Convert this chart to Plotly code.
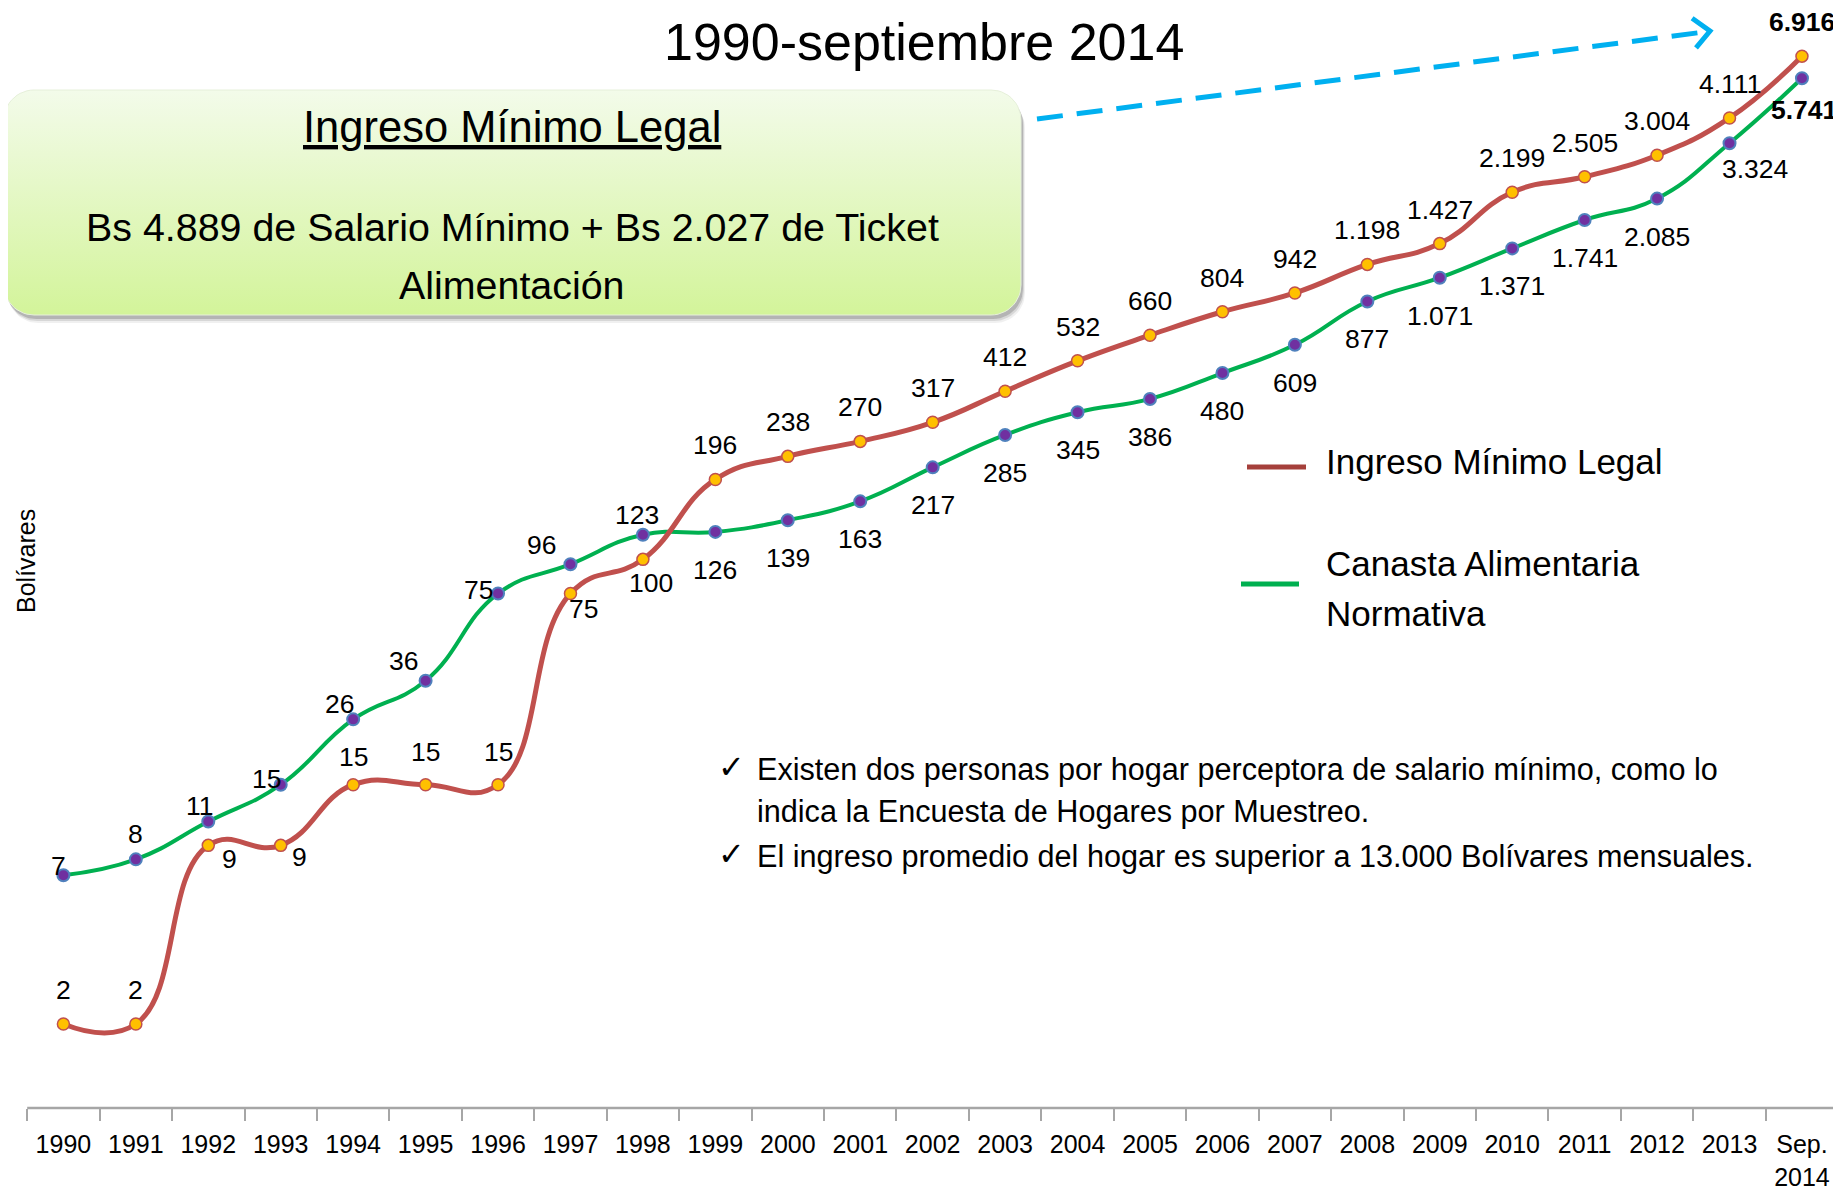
import numpy as np
import plotly.graph_objects as go

# ---------------- data ----------------
years = ["1990", "1991", "1992", "1993", "1994", "1995", "1996", "1997", "1998", "1999",
         "2000", "2001", "2002", "2003", "2004", "2005", "2006", "2007", "2008", "2009",
         "2010", "2011", "2012", "2013", "Sep.<br>2014"]
ingreso_minimo = [2, 2, 9, 9, 15, 15, 15, 75, 100, 196, 238, 270, 317, 412, 532, 660,
                  804, 942, 1198, 1427, 2199, 2505, 3004, 4111, 6916]
canasta_alimentaria = [7, 8, 11, 15, 26, 36, 75, 96, 123, 126, 139, 163, 217, 285, 345,
                       386, 480, 609, 877, 1071, 1371, 1741, 2085, 3324, 5741]
series_names = ["Ingreso Mínimo Legal", "Canasta Alimentaria<br>Normativa"]

# label offsets (pixels) - style only
ing_off = [(0, 34), (0, 34), (21, -14), (19, -12), (0, 28), (0, 33), (0, 33), (13, -15), (8, -24)] + \
          [(0, 34)] * 16
can_off = [(-5, 9), (0, 25), (-8, 16), (-14, 6), (-14, 15), (-22, 20), (-20, 4), (-29, 19), (-6, 20)] + \
          [(0, -38)] * 14 + [(25, -26), (2, -32)]

# ---------------- layout constants ----------------
OFF = 8                      # page body margin in the browser
W, H = 1841 - OFF, 1194 - OFF
PB = 1108 - OFF              # plot bottom (figure px)
FONT = "Liberation Sans, Arial, sans-serif"
RED = "#c0504d"
GREEN = "#00b050"


def px(X):  # reference-window px -> paper
    return (X - OFF) / W


def py(Y):
    return (PB - (Y - OFF)) / PB


def fmt(v):
    return f"{v:,}".replace(",", ".")


fig = go.Figure()


# ---- decorative box (overlay pixel axes, in reference-window px) ----
def rrect(x0, y0, x1, y1, r, n=14):
    xs, ys = [], []
    for cx, cy, a0, a1 in [(x0 + r, y0 + r, np.pi, 1.5 * np.pi),
                           (x1 - r, y0 + r, 1.5 * np.pi, 2 * np.pi),
                           (x1 - r, y1 - r, 0, 0.5 * np.pi),
                           (x0 + r, y1 - r, 0.5 * np.pi, np.pi)]:
        t = np.linspace(a0, a1, n)
        xs += list(cx + r * np.cos(t))
        ys += list(cy + r * np.sin(t))
    xs.append(xs[0]); ys.append(ys[0])
    return xs, ys


bx0, by0, bx1, by1 = 4, 90, 1021, 315
for off, alpha in [(8, 0.06), (6, 0.10), (4, 0.16)]:
    sx, sy = rrect(bx0 + off / 2, by0 + off, bx1 + off / 2, by1 + off, 30)
    fig.add_trace(go.Scatter(x=sx, y=sy, xaxis="x2", yaxis="y2", mode="lines", fill="toself",
                             fillcolor=f"rgba(0,0,0,{alpha})", line=dict(width=0),
                             hoverinfo="skip", showlegend=False))
bxs, bys = rrect(bx0, by0, bx1, by1, 30)
fig.add_trace(go.Scatter(x=bxs, y=bys, xaxis="x2", yaxis="y2", mode="lines", fill="toself",
                         fillgradient=dict(type="vertical", start=by0, stop=by1,
                                           colorscale=[[0, "#f3fbea"], [1, "#d3f49a"]]),
                         line=dict(width=1, color="#e6f0da"),
                         hoverinfo="skip", showlegend=False))

# ---- data traces ----
fig.add_trace(go.Scatter(
    x=years, y=canasta_alimentaria, name=series_names[1], mode="lines+markers",
    line=dict(color=GREEN, width=4, shape="spline", smoothing=1.3),
    marker=dict(size=12, color="#7030a0", line=dict(color="#4f81bd", width=2)),
    showlegend=False, cliponaxis=False))
fig.add_trace(go.Scatter(
    x=years, y=ingreso_minimo, name=series_names[0], mode="lines+markers",
    line=dict(color=RED, width=5, shape="spline", smoothing=1.3),
    marker=dict(size=12, color="#ffc000", line=dict(color=RED, width=1.5)),
    showlegend=False, cliponaxis=False))

ann = []
# data labels
for vals, offs in [(ingreso_minimo, ing_off), (canasta_alimentaria, can_off)]:
    for i, (v, (dx, dy)) in enumerate(zip(vals, offs)):
        last = i == len(vals) - 1
        ann.append(dict(x=i, y=np.log10(v), xref="x", yref="y",
                        xanchor="center", yanchor="middle",
                        text=f"<b>{fmt(v)}</b>" if last else fmt(v),
                        showarrow=False, xshift=dx, yshift=dy,
                        font=dict(family=FONT, size=26.5, color="#000")))


def txt(X, Y, t, size, anchor="center", **kw):
    ann.append(dict(x=px(X), y=py(Y), xref="paper", yref="paper", text=t,
                    xanchor=anchor, yanchor="middle", showarrow=False,
                    font=dict(family=kw.pop("family", FONT), size=size, color="#000"), **kw))


# title
txt(924, 42, "1990-septiembre 2014", 52)
# box texts
txt(512, 127, "<u>Ingreso Mínimo Legal</u>", 43.5)
txt(512, 227, "Bs 4.889 de Salario Mínimo + Bs 2.027 de Ticket", 39.4)
txt(512, 285, "Alimentación", 39.4)
# bullets
for yy in (767, 854):
    txt(716, yy, "✓", 32, anchor="left", family="DejaVu Sans")
for yy, t in [(769, "Existen dos personas por hogar perceptora de salario mínimo, como lo"),
              (811, "indica la Encuesta de Hogares por Muestreo."),
              (856, "El ingreso promedio del hogar es superior a 13.000 Bolívares mensuales.")]:
    txt(755, yy, t, 30.6, anchor="left")
# legend
for yy, t in [(461, "Ingreso Mínimo Legal"), (564, "Canasta Alimentaria"), (613, "Normativa")]:
    txt(1324, yy, t, 35, anchor="left")
# y title
txt(26, 561, "Bolívares", 25, textangle=-90)

shapes = []
# x axis line
shapes.append(dict(type="line", xref="x", yref="paper", x0=-0.5, x1=24.5, y0=0, y1=0,
                   line=dict(color="#a6a6a6", width=2.5)))
# legend lines
shapes.append(dict(type="line", xref="paper", yref="paper", x0=px(1247), x1=px(1306),
                   y0=py(467), y1=py(467), line=dict(color="#a5403b", width=5)))
shapes.append(dict(type="line", xref="paper", yref="paper", x0=px(1241), x1=px(1299),
                   y0=py(584), y1=py(584), line=dict(color=GREEN, width=5)))
# dashed arrow
ax0, ay0, ax1, ay1 = 1037, 119, 1710, 31
shapes.append(dict(type="line", xref="paper", yref="paper", x0=px(ax0), y0=py(ay0),
                   x1=px(ax1 - 6), y1=py(ay1 + 1), line=dict(color="#00b0f0", width=5, dash="26px,14px")))
d = np.array([ax1 - ax0, ay1 - ay0], float)
d /= np.linalg.norm(d)
pts = []
for ang in (0.75, -0.75):
    c, s = np.cos(ang), np.sin(ang)
    v = np.array([c * (-d[0]) - s * (-d[1]), s * (-d[0]) + c * (-d[1])])
    pts.append((ax1 + 22 * v[0], ay1 + 22 * v[1]))
path = (f"M {px(pts[0][0])},{py(pts[0][1])} L {px(ax1)},{py(ay1)} "
        f"L {px(pts[1][0])},{py(pts[1][1])}")
shapes.append(dict(type="path", xref="paper", yref="paper", path=path,
                   line=dict(color="#00b0f0", width=5)))

# category 0 sits at reference x=63.4, spacing 72.44 px; log axis 273.5 px/decade
CAT0, STEP = 63.4 - OFF, 72.44
DEC = 273.5
fig.update_layout(
    width=W, height=H,
    margin=dict(l=0, r=0, t=0, b=H - PB, autoexpand=False),
    paper_bgcolor="white", plot_bgcolor="white",
    showlegend=False,
    xaxis=dict(type="category", categoryorder="array", categoryarray=years,
               range=[-CAT0 / STEP, (W - CAT0) / STEP], tickson="boundaries",
               ticks="outside", ticklen=12, ticklabelstandoff=19,
               tickwidth=1.5, tickcolor="#a6a6a6", showline=False, showgrid=False,
               zeroline=False, tickangle=0, automargin=False,
               tickfont=dict(family=FONT, size=25, color="#000")),
    yaxis=dict(type="log", range=[-0.006, -0.006 + PB / DEC], visible=False,
               showgrid=False, automargin=False),
    xaxis2=dict(overlaying="x", range=[OFF, OFF + W], visible=False, anchor="y2"),
    yaxis2=dict(overlaying="y", range=[OFF + PB, OFF], visible=False, anchor="x2"),
    annotations=ann, shapes=shapes,
)

fig.write_html("out.html")
